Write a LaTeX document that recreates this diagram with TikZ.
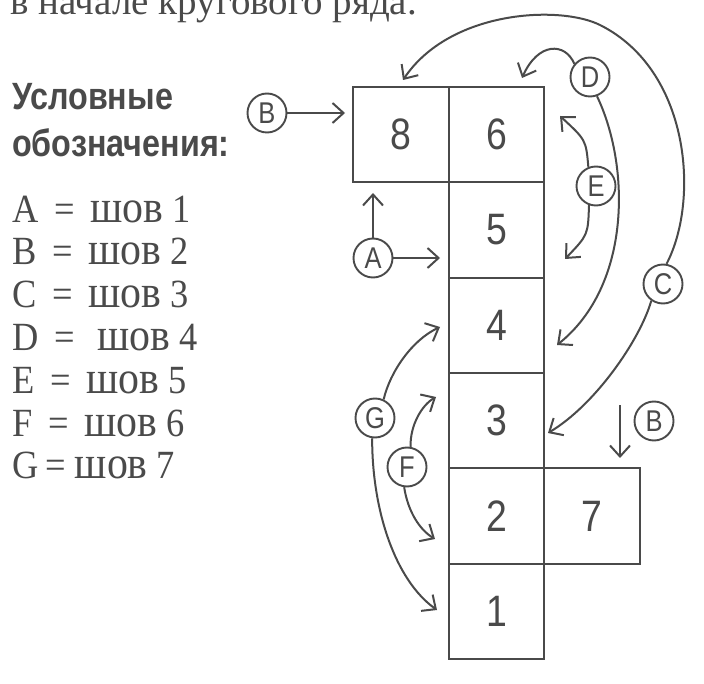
\documentclass[tikz,border=0pt]{standalone}
\usepackage{fontspec}
\setmainfont{Liberation Serif}
\setsansfont{Liberation Sans}
\newfontfamily\narrowsans[FakeStretch=0.85]{Liberation Sans}
\newfontfamily\narrowserif[FakeStretch=0.91]{Liberation Serif}
\usetikzlibrary{arrows.meta}
\definecolor{ink}{HTML}{4A4A4A}
\newcommand\shovword{{\fontsize{46}{46}\selectfont шов}}
\begin{document}
\begin{tikzpicture}[x=1pt,y=-1pt,
  cell/.style={draw=ink,line width=2pt,minimum width=95.67pt,minimum height=95.33pt,inner sep=0pt,
    font=\fontsize{44}{44}\narrowsans,text=ink},
  seam/.style={circle,draw=ink,line width=1.9pt,minimum size=39pt,inner sep=0pt,
    font=\fontsize{30}{30}\narrowsans,text=ink},
  arr/.style={draw=ink,line width=2pt,-{Straight Barb[length=11pt,width=20pt,line width=2pt]}},
  legend/.style={anchor=base west,font=\fontsize{40}{40}\narrowserif,text=ink,inner sep=0pt},
  heading/.style={anchor=base west,font=\fontsize{38}{38}\narrowsans\bfseries,text=ink,inner sep=0pt},
]
\useasboundingbox[fill=white] (0,0) rectangle (704,684);

% top, cut-off line of text
\node[anchor=base west,inner sep=0pt,text=ink,font=\fontsize{39}{39}\selectfont] (toptext) at (10,15) {в начале кругового ряда.};

% legend
\node[heading] (h1) at (12,110) {Условные};
\node[heading] (h2) at (12,157) {обозначения:};
\node[legend] (lA) at (12,223) {A \,=\, \shovword\ 1};
\node[legend] (lB) at (12,265) {B \,=\, \shovword\ 2};
\node[legend] (lC) at (12,308) {C \,=\, \shovword\ 3};
\node[legend] (lD) at (12,351) {D \,=\,\, \shovword\ 4};
\node[legend] (lE) at (12,393) {E \,=\, \shovword\ 5};
\node[legend] (lF) at (12,436) {F \,=\, \shovword\ 6};
\node[legend] (lG) at (12,478) {G\,= \shovword\ 7};

% cells
\node[cell] (c8) at (400.8,134.7) {8};
\node[cell] (c6) at (496.5,134.7) {6};
\node[cell] (c5) at (496.5,230.0) {5};
\node[cell] (c4) at (496.5,325.3) {4};
\node[cell] (c3) at (496.5,420.7) {3};
\node[cell] (c2) at (496.5,516.0) {2};
\node[cell] (c7) at (592.2,516.0) {7};
\node[cell] (c1) at (496.5,611.3) {1};

% seam markers
\node[seam] (B1) at (267,113) {B};
\node[seam] (A)  at (373,258) {A};
\node[seam] (D)  at (590,77)  {D};
\node[seam] (E)  at (596,186) {E};
\node[seam] (C)  at (663,284) {C};
\node[seam] (B2) at (654,421) {B};
\node[seam] (G)  at (375,418) {G};
\node[seam] (F)  at (407,467) {F};

% arrow ends
\coordinate (tB1) at (345,113);
\coordinate (tAr) at (440,258);
\coordinate (tAu) at (373,193);
\coordinate (tD1) at (522,78);
\coordinate (tD2) at (557,345);
\coordinate (tEu) at (560,116);
\coordinate (tEd) at (565,259);
\coordinate (mC)  at (600,25);
\coordinate (tC1) at (403,80);
\coordinate (tC2) at (548,433);
\coordinate (sB2) at (620,405);
\coordinate (tB2) at (620,458);
\coordinate (tGu) at (440,327);
\coordinate (tGd) at (437,610);
\coordinate (tFu) at (436,397);
\coordinate (tFd) at (435,539);

% arrows
\draw[arr] (B1) -- (tB1);
\draw[arr] (A) -- (tAr);
\draw[arr] (A) -- (tAu);
\draw[arr] (D.140) .. controls (565,42) and (538,42) .. (tD1);
\draw[arr] (D.290) .. controls (630,165) and (632,285) .. (tD2);
\draw[arr] (E.112) .. controls (586,140) .. (tEu);
\draw[arr] (E.250) .. controls (588,235) .. (tEd);
\draw[arr] (C.80) .. controls (700,200) and (690,70) .. (mC)
               .. controls (560,5) and (450,10) .. (tC1);
\draw[arr] (C.235) .. controls (640,340) and (595,405) .. (tC2);
\draw[arr] (sB2) -- (tB2);
\draw[arr] (G.65) .. controls (390,372) and (412,340) .. (tGu);
\draw[arr] (G.262) .. controls (372,510) and (395,580) .. (tGd);
\draw[arr] (F.80) .. controls (410,425) and (422,405) .. (tFu);
\draw[arr] (F.262) .. controls (408,512) and (420,530) .. (tFd);
\end{tikzpicture}
\end{document}
